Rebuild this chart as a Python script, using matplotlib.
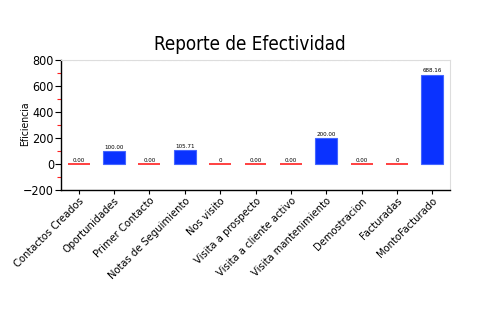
import matplotlib
matplotlib.use("Agg")
import matplotlib.pyplot as plt
from matplotlib.ticker import MultipleLocator

categorias = ["Contactos Creados", "Oportunidades", "Primer Contacto", "Notas de Seguimiento",
              "Nos visito", "Visita a prospecto", "Visita a cliente activo", "Visita mantenimiento",
              "Demostracion", "Facturadas", "MontoFacturado"]
valores = [0, 100, 0, 105.71, 0, 0, 0, 200, 0, 0, 688.16]
etiquetas = ["0.00", "100.00", "0.00", "105.71", "0", "0.00", "0.00", "200.00", "0.00", "0", "688.16"]

plt.rcParams['font.family'] = ['DejaVu Sans']
plt.rcParams['font.stretch'] = 'condensed'

fig = plt.figure(figsize=(5, 3.3), dpi=100)
ax = fig.add_axes([0.122, 0.424, 0.778, 0.394])

x = list(range(len(categorias)))
ancho = 0.62
for i, v in enumerate(valores):
    if v == 0:
        # barras en cero se marcan con una linea roja
        ax.hlines(0, i - ancho / 2, i + ancho / 2, color="#ff2020", lw=1.2, zorder=3)
    else:
        ax.bar(i, v, width=ancho, color="#0a32ff", edgecolor="#4466ff", lw=0.8, zorder=3)
    ax.text(i, v + 12, etiquetas[i], ha="center", va="bottom", fontsize=4.5)

ax.set_xlim(-0.5, len(categorias) - 0.5)
ax.set_ylim(-200, 800)
ax.yaxis.set_major_locator(MultipleLocator(200))
ax.yaxis.set_minor_locator(MultipleLocator(100))
ax.tick_params(axis="y", which="minor", color="#ff2020", length=3, width=0.8)
ax.tick_params(axis="y", which="major", length=4, width=0.8, labelsize=9, pad=1)
ax.tick_params(axis="x", length=3, width=0.8, labelsize=8, pad=1)
ax.set_xticks(x)
ax.set_xticklabels(categorias, rotation=45, ha="right", rotation_mode="anchor")

ax.axhline(800, color="#dddddd", lw=0.8, ls="--", zorder=1)
for s in ["top", "right"]:
    ax.spines[s].set_color("#dddddd")
    ax.spines[s].set_linewidth(0.8)
ax.spines["left"].set_linewidth(1)
ax.spines["bottom"].set_linewidth(1)

ax.set_ylabel("Eficiencia", fontsize=7.5)
ax.yaxis.set_label_coords(-0.08, 0.51)
fig.text(0.5, 0.865, "Reporte de Efectividad", ha="center", va="center", fontsize=13.5)

fig.savefig("out.png", dpi=100)
